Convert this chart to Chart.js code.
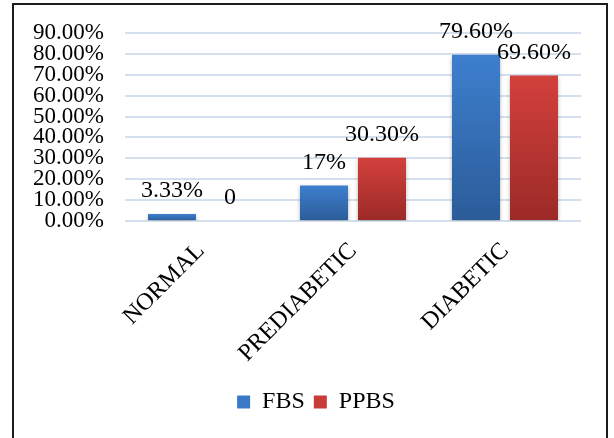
<!DOCTYPE html>
<html>
<head>
<meta charset="utf-8">
<script src="https://cdn.jsdelivr.net/npm/chart.js@4/dist/chart.umd.min.js"></script>
<style>
  html, body { margin: 0; padding: 0; background: #ffffff; }
  #wrap { position: relative; width: 614px; height: 438px; overflow: hidden; }
  #frame {
    position: absolute; left: 12px; top: 3px; width: 596px; height: 470px;
    border: 2px solid #1c1c1c; box-sizing: border-box; pointer-events: none;
  }
  canvas { position: absolute; left: 0; top: 0; }
</style>
</head>
<body>
<div id="wrap">
  <canvas id="chart" width="614" height="438"></canvas>
  <div id="frame"></div>
</div>
<script>
// Blood sugar classification by test type (percent of subjects)
const categories = ['NORMAL', 'PREDIABETIC', 'DIABETIC'];
const fbsValues  = [3.33, 17, 79.6];
const ppbsValues = [0, 30.3, 69.6];
const fbsLabels  = ['3.33%', '17%', '79.60%'];
const ppbsLabels = ['0', '30.30%', '69.60%'];
const yTicks     = [0, 10, 20, 30, 40, 50, 60, 70, 80, 90];

const FONT = '"Liberation Serif", "Times New Roman", serif';

// Vertical gradient for each bar, light at the top, darker at the base
function barGradient(topColor, bottomColor) {
  return function (ctx) {
    const chart = ctx.chart;
    if (!chart.chartArea || ctx.type !== 'data') return topColor;
    const y = chart.scales.y;
    const top = y.getPixelForValue(ctx.raw);
    const base = y.getPixelForValue(0);
    if (!isFinite(top) || Math.abs(base - top) < 1) return bottomColor;
    const g = chart.ctx.createLinearGradient(0, top, 0, base);
    g.addColorStop(0, topColor);
    g.addColorStop(1, bottomColor);
    return g;
  };
}

// Soft drop shadow under the bars
const barShadow = {
  id: 'barShadow',
  beforeDatasetsDraw(chart) {
    const c = chart.ctx;
    c.save();
    c.shadowColor = 'rgba(0,0,0,0.28)';
    c.shadowBlur = 4;
    c.shadowOffsetX = 0;
    c.shadowOffsetY = 2;
  },
  afterDatasetsDraw(chart) {
    chart.ctx.restore();
  }
};

// Value labels above each bar
const valueLabels = {
  id: 'valueLabels',
  afterDatasetsDraw(chart) {
    const c = chart.ctx;
    const texts = [fbsLabels, ppbsLabels];
    c.save();
    c.shadowColor = 'transparent';
    c.font = '24px ' + FONT;
    c.fillStyle = '#000000';
    c.textAlign = 'center';
    c.textBaseline = 'middle';
    chart.data.datasets.forEach((ds, di) => {
      const meta = chart.getDatasetMeta(di);
      meta.data.forEach((bar, i) => {
        c.fillText(texts[di][i], bar.x, bar.y - 23);
      });
    });
    c.restore();
  }
};

new Chart(document.getElementById('chart'), {
  type: 'bar',
  data: {
    labels: categories,
    datasets: [
      {
        label: 'FBS',
        data: fbsValues,
        backgroundColor: barGradient('#3d7fce', '#2b5c99'),
        categoryPercentage: 0.763,
        barPercentage: 0.828
      },
      {
        label: 'PPBS',
        data: ppbsValues,
        backgroundColor: barGradient('#d3403c', '#9b2a27'),
        categoryPercentage: 0.763,
        barPercentage: 0.828
      }
    ]
  },
  plugins: [barShadow, valueLabels],
  options: {
    responsive: false,
    animation: false,
    layout: { padding: { left: 18, right: 0, top: 33, bottom: 14 } },
    plugins: {
      tooltip: { enabled: false },
      legend: {
        position: 'bottom',
        labels: {
          color: '#000000',
          font: { family: FONT, size: 24 },
          boxWidth: 13,
          boxHeight: 13,
          padding: 9,
          generateLabels(chart) {
            const cols = ['#3a79c6', '#c93b38'];
            return chart.data.datasets.map((ds, i) => ({
              text: ds.label,
              fillStyle: cols[i],
              strokeStyle: cols[i],
              lineWidth: 0,
              hidden: false,
              datasetIndex: i,
              fontColor: '#000000'
            }));
          }
        }
      }
    },
    scales: {
      x: {
        grid: { display: false },
        border: { display: false },
        ticks: {
          color: '#000000',
          font: { family: FONT, size: 24 },
          minRotation: 45,
          maxRotation: 45,
          autoSkip: false,
          padding: 8
        },
        afterFit(scale) { scale.height = 160; }
      },
      y: {
        min: 0,
        max: 90,
        afterBuildTicks(scale) { scale.ticks = yTicks.map(v => ({ value: v })); },
        grid: { color: '#d5e0ef', lineWidth: 2, drawTicks: false },
        border: { display: false },
        ticks: {
          color: '#000000',
          font: { family: FONT, size: 23, lineHeight: 0.9 },
          padding: 21,
          autoSkip: false,
          callback: v => v.toFixed(2) + '%'
        },
        afterFit(scale) { scale.width = 107; }
      },
      yRight: {
        position: 'right',
        display: true,
        grid: { display: false },
        border: { display: false },
        ticks: { display: false },
        afterFit(scale) { scale.width = 33; }
      }
    }
  }
});
</script>
</body>
</html>
